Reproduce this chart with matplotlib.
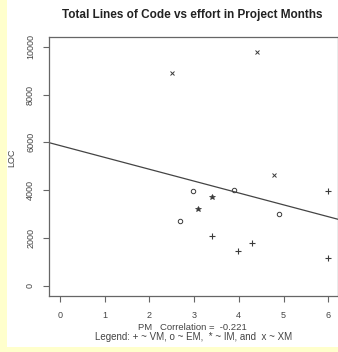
import matplotlib
matplotlib.use("Agg")
import matplotlib.pyplot as plt
from matplotlib.patches import Rectangle

plt.rcParams['font.family'] = ['Liberation Sans', 'DejaVu Sans']

# Data
vm_pm = [6.00, 3.39, 4.30, 3.99, 6.00]
vm_loc = [3975, 2079, 1799, 1452, 1146]
em_pm = [2.98, 3.89, 2.68, 4.89]
em_loc = [3975, 4004, 2720, 3000]
im_pm = [3.39, 3.09]
im_loc = [3699, 3209]
xm_pm = [2.50, 4.40, 4.79]
xm_loc = [8887, 9791, 4632]
fit_intercept = 5864
fit_slope = -496
x_ticks = [0, 1, 2, 3, 4, 5, 6]
y_ticks = [0, 2000, 4000, 6000, 8000, 10000]

W, H = 338, 352
fig = plt.figure(figsize=(W / 100, H / 100), dpi=100)
fig.patch.set_facecolor('#FFFFCC')
bg = Rectangle((7 / W, 5 / H), 1 - 7 / W, 1 - 5 / H,
               transform=fig.transFigure, facecolor='white',
               edgecolor='none', zorder=-10)
fig.patches.append(bg)

ax = fig.add_axes([49 / W, (H - 296) / H, (337.5 - 49) / W, (296 - 36.5) / H])
ax.set_zorder(1)
ax.set_facecolor('white')
ax.set_xlim(-0.246, 6.208)
ax.set_ylim(-431, 10427)

c = '#3a3a3a'
ax.plot(vm_pm, vm_loc, linestyle='none', marker='+', color=c, ms=3.8, mew=0.8)
ax.plot(em_pm, em_loc, linestyle='none', marker='o', mfc='none', mec=c, ms=3.2, mew=0.7)
ax.plot(im_pm, im_loc, linestyle='none', marker='*', color=c, ms=4, mew=0.5)
ax.plot(xm_pm, xm_loc, linestyle='none', marker='x', color=c, ms=2.8, mew=0.7)
ax.axline((0, fit_intercept), slope=fit_slope, color='#444444', lw=0.9)

for s in ax.spines.values():
    s.set_color('#666666')
    s.set_linewidth(0.9)

ax.set_xticks(x_ticks)
ax.set_yticks(y_ticks)
ax.set_yticklabels([str(v) for v in y_ticks], rotation=90, va='center')
ax.tick_params(axis='both', colors='#666666', labelcolor='#444444', labelsize=6.5,
               length=4, width=0.8)
ax.tick_params(axis='x', pad=7)
ax.tick_params(axis='y', pad=6)

fig.text(192 / W, 1 - 15 / H, 'Total Lines of Code vs effort in Project Months',
         ha='center', va='center', fontsize=8.5, fontweight='bold', color='#222222')
fig.text(12 / W, 1 - 158 / H, 'LOC', rotation=90, ha='center', va='center',
         fontsize=6.5, color='#444444')
fig.text(192.5 / W, 1 - 327 / H, 'PM   Correlation =  -0.221', ha='center', va='center',
         fontsize=6.8, color='#444444')
fig.text(193.5 / W, 1 - 337.5 / H, 'Legend: + ~ VM, o ~ EM,  * ~ IM, and  x ~ XM',
         ha='center', va='center', fontsize=7, color='#444444')

fig.savefig('out.png', dpi=100)
